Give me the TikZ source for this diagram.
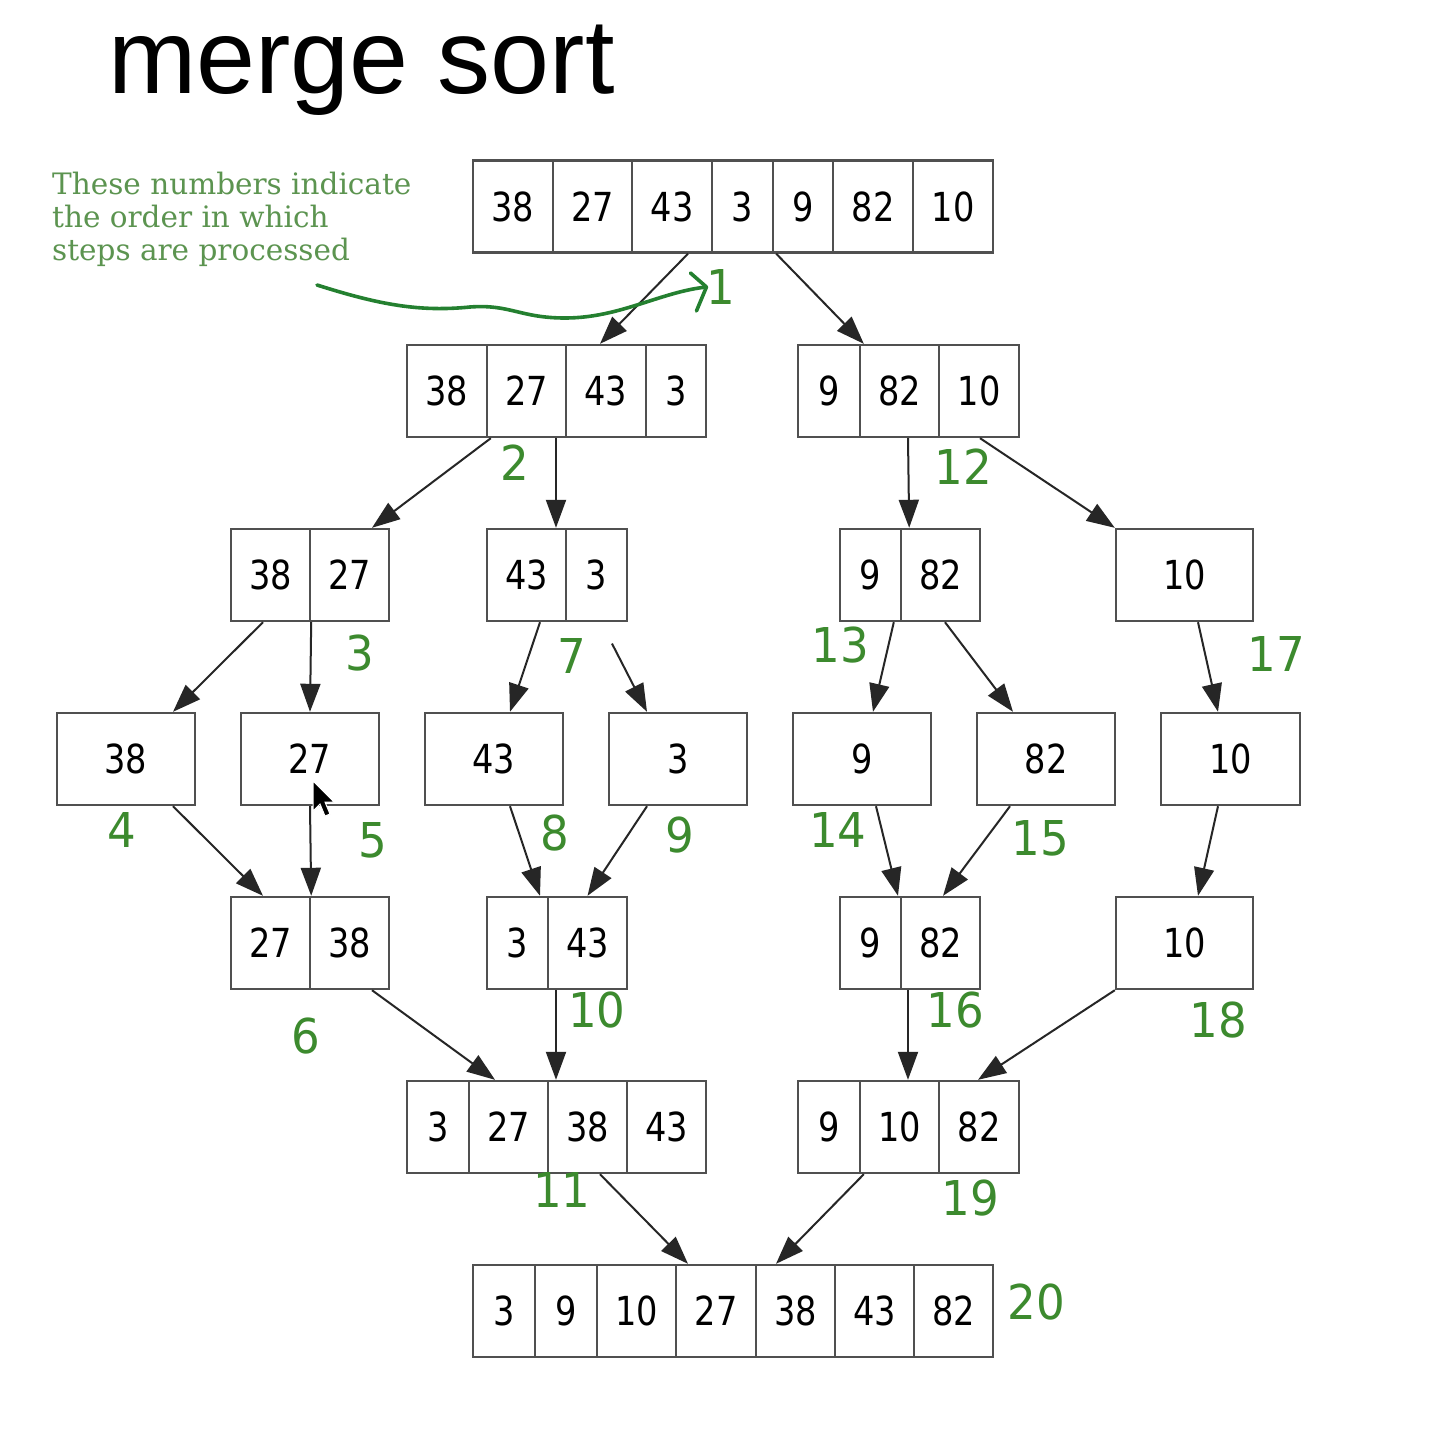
\documentclass[tikz,border=0pt]{standalone}
\usepackage{fontspec}
\usetikzlibrary{arrows.meta}
\newfontfamily\cellfont[FakeStretch=0.84]{DejaVu Sans}
\newfontfamily\stepfont[FakeStretch=0.94]{DejaVu Sans}
\newfontfamily\titlefont{Liberation Sans}
\newfontfamily\notefont{DejaVu Serif}
\definecolor{boxgray}{RGB}{80,80,80}
\definecolor{stepgreen}{RGB}{60,138,46}
\definecolor{notegreen}{RGB}{92,148,80}
\definecolor{inkgreen}{RGB}{36,128,48}
\tikzset{
  cell/.style={draw=boxgray,line width=2.4pt,minimum height=92pt,inner sep=0pt,
    font=\cellfont\fontsize{40pt}{40pt}\selectfont},
  arr/.style={-{Triangle[length=28pt,width=20pt]},line width=2pt,draw=black!85},
  stepnum/.style={text=stepgreen,inner sep=0pt,font=\stepfont\fontsize{48pt}{48pt}\selectfont},
  note/.style={text=notegreen,align=left,inner sep=0pt,
    font=\notefont\fontsize{29.5pt}{33pt}\selectfont}
}
\begin{document}
\begin{tikzpicture}[x=1pt,y=-1pt]
  \useasboundingbox[fill=white] (0,0) rectangle (1440,1430);
  % Title and note
  \node[anchor=base west,inner sep=0pt,font=\titlefont\fontsize{106pt}{106pt}\selectfont]
    (title) at (108,93) {merge sort};
  \node[note,anchor=north west] (note) at (52,172)
    {These numbers indicate\\ the order in which\\ steps are processed};
  % Split rows
  \foreach \cx/\w/\v [count=\i] in {513/80/38,592.5/79/27,672/80/43,742.5/61/3,803/60/9,873/80/82,953/80/10}
    \node[cell,minimum width=\w] (a\i) at (\cx,206.5) {\v};
  \foreach \cx/\w/\v [count=\i] in {447/80/38,526.5/79/27,606/80/43,676/60/3,829/62/9,899.5/79/82,979/80/10}
    \node[cell,minimum width=\w] (b\i) at (\cx,391) {\v};
  \foreach \cx/\w/\v [count=\i] in {270.5/79/38,349.5/79/27,526.5/79/43,596.5/61/3,870.5/61/9,940.5/79/82,1184.5/137/10}
    \node[cell,minimum width=\w] (c\i) at (\cx,575) {\v};
  \foreach \cx/\w/\v [count=\i] in {126/138/38,310/138/27,494/138/43,678/138/3,862/138/9,1046/138/82,1230.5/139/10}
    \node[cell,minimum width=\w] (d\i) at (\cx,759) {\v};
  % Merge rows
  \foreach \cx/\w/\v [count=\i] in {270.5/79/27,349.5/79/38,517.5/61/3,587.5/79/43,870.5/61/9,940.5/79/82,1184.5/137/10}
    \node[cell,minimum width=\w] (e\i) at (\cx,943) {\v};
  \foreach \cx/\w/\v [count=\i] in {438/62/3,508.5/79/27,587.5/79/38,666.5/79/43,829/62/9,899.5/79/10,979/80/82}
    \node[cell,minimum width=\w] (f\i) at (\cx,1127) {\v};
  \foreach \cx/\w/\v [count=\i] in {504/62/3,566/62/9,636.5/79/10,716/80/27,795.5/79/38,874.5/79/43,953.5/79/82}
    \node[cell,minimum width=\w] (g\i) at (\cx,1311) {\v};
  % Arrows, splitting
  \draw[arr] ([xshift=16pt]a3.south) -- ([xshift=-6pt]b3.north);
  \draw[arr] ([xshift=2pt]a4.south east) -- ([xshift=5pt]b6.north west);
  \draw[arr] ([xshift=5pt]b2.south west) -- ([xshift=22.5pt]c2.north);
  \draw[arr] ([xshift=29.5pt]b2.south) -- ([xshift=29.5pt]c3.north);
  \draw[arr] ([xshift=8.5pt]b6.south) -- ([xshift=7pt]c5.north east);
  \draw[arr] ([xshift=1pt]b7.south) -- (c7.north west);
  \draw[arr] ([xshift=-7.5pt]c1.south) -- ([xshift=47pt]d1.north);
  \draw[arr] (c1.south east) -- (d2.north);
  \draw[arr] ([xshift=13.5pt]c3.south) -- ([xshift=16pt]d3.north);
  \draw[arr,shorten <=24pt] ([xshift=4.5pt]c4.south) -- ([xshift=-31pt]d4.north);
  \draw[arr] ([xshift=-6pt]c6.south west) -- ([xshift=11pt]d5.north);
  \draw[arr] ([xshift=4.5pt]c6.south) -- ([xshift=-33pt]d6.north);
  \draw[arr] ([xshift=13.5pt]c7.south) -- ([xshift=-12.5pt]d7.north);
  % Arrows, merging
  \draw[arr] ([xshift=47pt]d1.south) -- ([xshift=-7.5pt]e1.north);
  \draw[arr] (d2.south) -- (e1.north east);
  \draw[arr] ([xshift=16pt]d3.south) -- ([xshift=22.5pt]e3.north);
  \draw[arr] ([xshift=-31pt]d4.south) -- (e4.north);
  \draw[arr] ([xshift=14pt]d5.south) -- ([xshift=27.5pt]e5.north);
  \draw[arr] ([xshift=-36pt]d6.south) -- ([xshift=2.5pt]e6.north);
  \draw[arr] ([xshift=-12.5pt]d7.south) -- ([xshift=13.5pt]e7.north);
  \draw[arr] ([xshift=22.5pt]e2.south) -- ([xshift=-13.5pt]f2.north);
  \draw[arr] ([xshift=-31.5pt]e4.south) -- ([xshift=-31.5pt]f3.north);
  \draw[arr] ([xshift=-32.5pt]e6.south) -- ([xshift=8.5pt]f6.north);
  \draw[arr] (e7.south west) -- ([xshift=-1pt]f7.north);
  \draw[arr] ([xshift=12.5pt]f3.south) -- ([xshift=-28pt]g4.north);
  \draw[arr] ([xshift=5pt]f6.south west) -- ([xshift=-19.5pt]g5.north);
  % Step numbers
  \foreach \n/\px/\py in {1/721/287,2/515/463,3/360/653,4/122/830,5/373/840,6/306/1036,
      7/572/656,8/555/833,9/680/835,10/597/1010,11/562/1190,12/963/467,13/840/645,
      14/838/830,15/1040/838,16/955/1010,17/1276/654,18/1218/1020,19/970/1198,20/1036/1302}
    \node[stepnum] (s\n) at (\px,\py) {\n};
  % Hand-drawn pointer to step 1
  \coordinate (wave) at (317,285);
  \draw[inkgreen,line width=3.6pt,line cap=round,line join=round]
    (wave) .. controls (380,305) and (420,312) .. (470,307)
    .. controls (510,304) and (520,318) .. (565,318)
    .. controls (620,318) and (660,292) .. (s1.west);
  \draw[inkgreen,line width=3.6pt,line cap=round,line join=round]
    ([xshift=-16pt,yshift=14pt]s1.west) -- (s1.west) -- ([xshift=-10pt,yshift=-24pt]s1.west);
  % Mouse cursor
  \draw[fill=black,draw=white,line width=1pt] (313,781) -- (313,811) -- (320,804) -- (325,816)
    -- (330,814) -- (325,802) -- (334,802) -- cycle;
\end{tikzpicture}
\end{document}
